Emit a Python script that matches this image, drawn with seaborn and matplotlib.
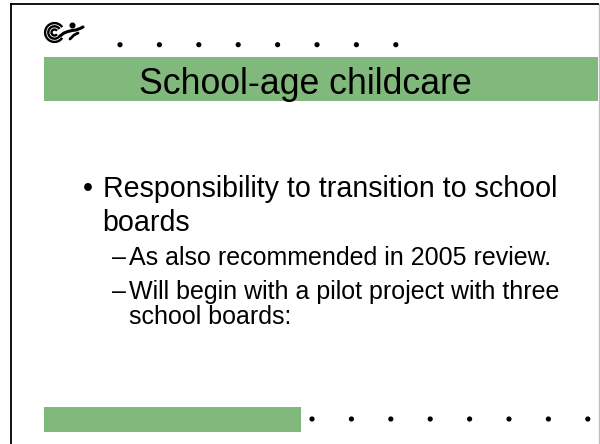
import matplotlib
matplotlib.use("Agg")
import matplotlib.pyplot as plt
import seaborn as sns
import numpy as np
import pandas as pd
from matplotlib.patches import Rectangle, Arc, Circle

# ---- slide content (data) ----
title = "School-age childcare"
level1_lines = ["Responsibility to transition to school", "boards"]
level2_items = [["As also recommended in 2005 review."],
                ["Will begin with a pilot project with three", "school boards:"]]
n_dots_top = 8
n_dots_bottom = 8

sns.set_theme(style="white")
plt.rcParams['font.family'] = ['Liberation Sans', 'DejaVu Sans']

W, H = 600, 444
fig = plt.figure(figsize=(6, 4.44), dpi=100)
ax = fig.add_axes([0, 0, 1, 1])

green = "#81B87B"

# dotted rows drawn with seaborn
top = pd.DataFrame({"x": 120 + 39.4 * np.arange(n_dots_top), "y": 44.7})
bot = pd.DataFrame({"x": 312 + 39.4 * np.arange(n_dots_bottom), "y": 419})
for d in (top, bot):
    sns.scatterplot(data=d, x="x", y="y", ax=ax, color='black', s=14,
                    edgecolor='none', legend=False)
ax.set_xlim(0, W)
ax.set_ylim(H, 0)
ax.axis('off')

# borders
ax.plot([10.8, 10.8], [3.5, H], color='black', lw=1.3, solid_capstyle='butt')
ax.plot([10.2, 599], [4.2, 4.2], color='black', lw=1.3, solid_capstyle='butt')
ax.plot([599, 599], [4.5, H], color='#BDBDBD', lw=0.9)

# title bar and bottom bar
ax.add_patch(Rectangle((44, 57), 554, 44.5, facecolor=green, edgecolor='none'))
ax.add_patch(Rectangle((44, 407), 257, 25, facecolor=green, edgecolor='none'))

# logo (stylised swirl + figure)
for r in (3.0, 6.2, 9.4):
    ax.add_patch(Arc((54.5, 32.5), 2 * r, 2 * r, theta1=35, theta2=325,
                     color='black', lw=1.7))
ax.add_patch(Circle((72.5, 25.5), 2.3, color='black'))
xs = np.array([60, 64, 68, 72, 76, 80, 83])
ys = np.array([36, 33, 31.5, 30.5, 30, 28.5, 27])
ax.plot(xs, ys, color='black', lw=2.2, solid_capstyle='round')
ax.plot([70, 74, 78], [39, 35, 33], color='black', lw=2.0, solid_capstyle='round')

# title
ax.text(305.5, 94, title, ha='center', va='baseline', fontsize=25.7,
        color='black')

# level-1 bullet
y = 196.5
ax.text(83, y, "\u2022", ha='left', va='baseline', fontsize=20.6, color='black')
for i, line in enumerate(level1_lines):
    ax.text(102.6, y + i * 34.5, line, ha='left', va='baseline',
            fontsize=20.6, color='black')

# level-2 bullets
ys2 = [264.5, 299]
for yy, item in zip(ys2, level2_items):
    ax.text(111.5, yy, "\u2013", ha='left', va='baseline', fontsize=18,
            color='black')
    for j, line in enumerate(item):
        ax.text(129, yy + j * 24.5, line, ha='left', va='baseline',
                fontsize=18, color='black')

fig.savefig("out.png", dpi=100)
